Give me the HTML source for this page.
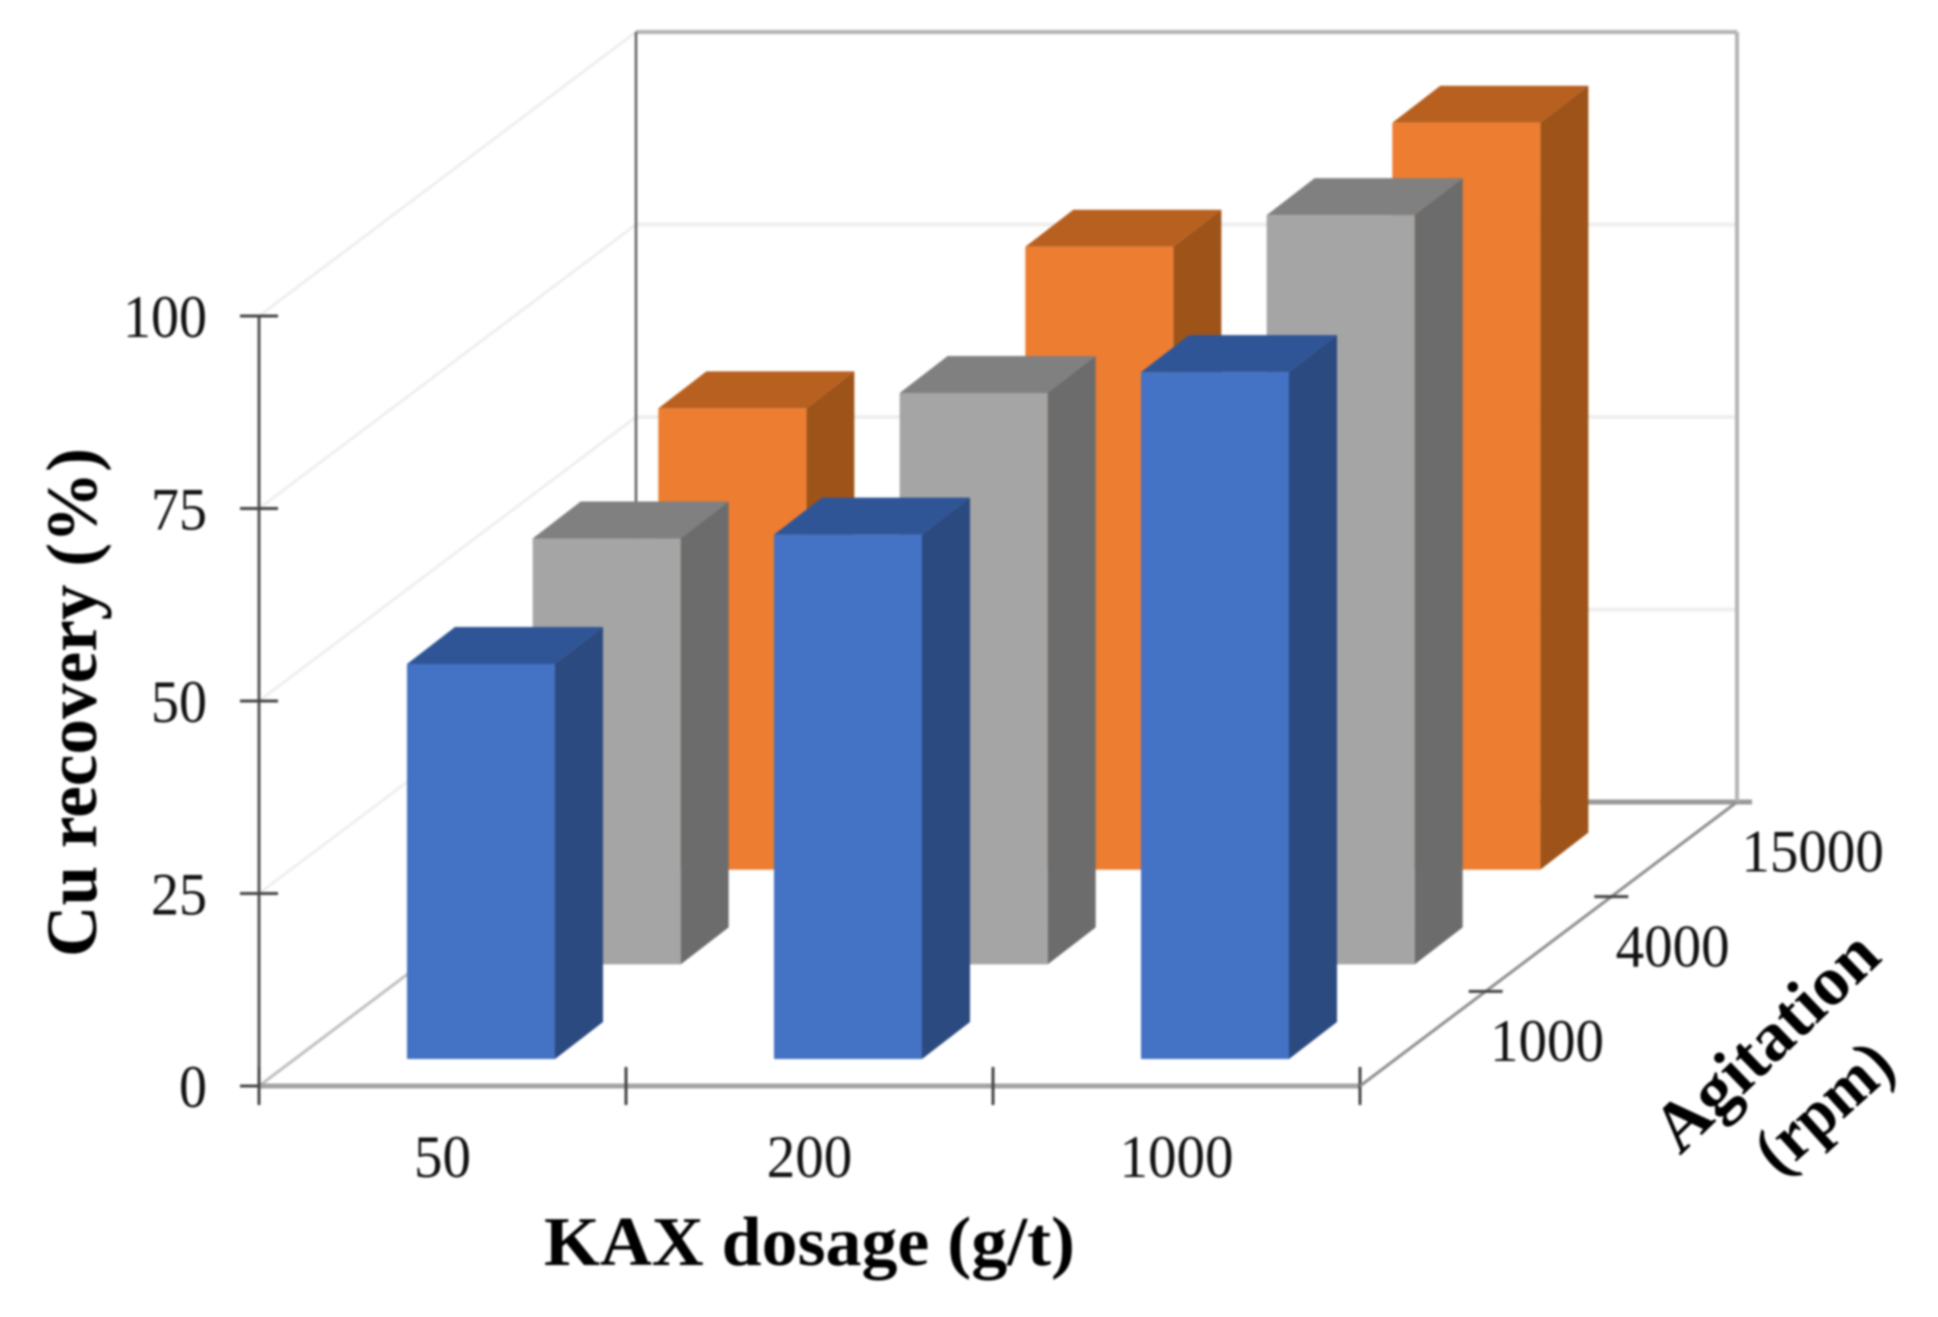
<!DOCTYPE html>
<html lang="en">
<head>
<meta charset="utf-8">
<title>Cu recovery 3D bar chart</title>
<style>
html,body{margin:0;padding:0;background:#fff;width:1938px;height:1317px;overflow:hidden}
svg{display:block;filter:blur(1.1px)}
text{font-family:"Liberation Serif",serif;fill:#111}
.title{font-weight:bold;fill:#000}
</style>
</head>
<body>
<svg id="chart" xmlns="http://www.w3.org/2000/svg" width="1938" height="1317" viewBox="0 0 1938 1317">
  <rect x="0" y="0" width="1938" height="1317" fill="#ffffff"/>
  <g id="walls"></g>
  <g id="bars"></g>
  <g id="axes"></g>
  <text class="title" transform="translate(96,957) rotate(-90)" font-size="72" textLength="509" lengthAdjust="spacingAndGlyphs">Cu recovery (%)</text>
  <text class="title" x="544" y="1265" font-size="70" textLength="531" lengthAdjust="spacingAndGlyphs">KAX dosage (g/t)</text>
  <text class="title" transform="translate(1680,1156) rotate(-44)" font-size="70" textLength="283" lengthAdjust="spacingAndGlyphs">Agitation</text>
  <text class="title" transform="translate(1779,1177) rotate(-42)" font-size="68" textLength="160" lengthAdjust="spacingAndGlyphs">(rpm)</text>
</svg>
<script>
const dosageCategories = ['50', '200', '1000'];
const agitationCategories = ['1000', '4000', '15000'];
const yTickValues = [0, 25, 50, 75, 100];
const recovery1000 = [51.3, 68.1, 89.2];
const recovery4000 = [55.3, 74.2, 97.3];
const recovery15000 = [59.9, 80.9, 97.0];

const NS = 'http://www.w3.org/2000/svg';
const seriesValues = [recovery1000, recovery4000, recovery15000];
const seriesColors = [
  {front: '#4472c4', side: '#2b4a80', top: '#2f5597'},
  {front: '#a5a5a5', side: '#6c6c6c', top: '#808080'},
  {front: '#ed7d31', side: '#9e5318', top: '#b8601f'}
];

// Projection of the chart's 3D space onto the page
const origin = {x: 259, y: 1086};
const plotWidth = 1101;
const plotHeight = 770;
const depthVec = {x: 377, y: -284};
const yMax = 100;
const barOffset = {x: 148, y: -27};
const barWidth = 148;
const barDepth = {x: 48, y: -37};

function px(xFrac, depthFrac) { return origin.x + plotWidth * xFrac + depthVec.x * depthFrac; }
function py(value, depthFrac) { return origin.y - plotHeight * value / yMax + depthVec.y * depthFrac; }
function catFrac(i) { return i / dosageCategories.length; }
function depthFrac(i) { return i / agitationCategories.length; }

function make(tag, parent, attrs) {
  const el = document.createElementNS(NS, tag);
  for (const k in attrs) el.setAttribute(k, attrs[k]);
  parent.appendChild(el);
  return el;
}

const walls = document.getElementById('walls');
const bars = document.getElementById('bars');
const axes = document.getElementById('axes');

// Gridlines on back and side walls
yTickValues.forEach(function (v) {
  const gridColor = v === 0 ? '#c0c0c0' : '#efefef';
  const side = make('line', walls, {x1: px(0, 0), y1: py(v, 0), x2: px(0, 1), y2: py(v, 1), stroke: gridColor, 'stroke-width': 3});
  
  
  const back = make('line', walls, {x1: px(0, 1), y1: py(v, 1), x2: v === 0 ? px(1, 1) + 15 : px(1, 1), y2: py(v, 1), stroke: v === 0 ? '#999999' : (v === 100 ? '#b2b2b2' : '#efefef'), 'stroke-width': v === 0 ? 5 : 4});
  
  
});
const backLeft = make('line', walls, {x1: px(0, 1), y1: py(0, 1), x2: px(0, 1), y2: py(yMax, 1), stroke: '#5f5f5f', 'stroke-width': 2.5});


const backRight = make('line', walls, {x1: px(1, 1), y1: py(0, 1), x2: px(1, 1), y2: py(yMax, 1), stroke: '#b4b4b4', 'stroke-width': 4});



// Bars, drawn back to front
for (let d = agitationCategories.length - 1; d >= 0; d--) {
  const c = seriesColors[d];
  const values = seriesValues[d];
  for (let i = 0; i < values.length; i++) {
    const x0 = px(catFrac(i), depthFrac(d)) + barOffset.x;
    const x1 = x0 + barWidth;
    const base = py(0, depthFrac(d)) + barOffset.y;
    const top = base - plotHeight * values[i] / yMax;
    const g = make('g', bars, {});
    
    
    const sidePoly = make('polygon', g, {fill: c.side, points: [x1, top, x1 + barDepth.x, top + barDepth.y, x1 + barDepth.x, base + barDepth.y, x1, base].join(' ')});
    
    
    const topPoly = make('polygon', g, {fill: c.top, points: [x0, top, x0 + barDepth.x, top + barDepth.y, x1 + barDepth.x, top + barDepth.y, x1, top].join(' ')});
    
    
    const front = make('rect', g, {fill: c.front, x: x0, y: top, width: barWidth, height: base - top});
    
    
  }
}

// Y axis
const yAxisLine = make('line', axes, {x1: origin.x, y1: py(0, 0) + 19, x2: origin.x, y2: py(yMax, 0), stroke: '#555555', 'stroke-width': 3});


yTickValues.forEach(function (v) {
  const tick = make('line', axes, {x1: origin.x - 19, y1: py(v, 0), x2: origin.x + 19, y2: py(v, 0), stroke: '#444444', 'stroke-width': 3});
  
  
  const label = make('text', axes, {x: 207, y: py(v, 0) + 21, 'font-size': 60, 'text-anchor': 'end', textLength: String(v).length * 28, lengthAdjust: 'spacingAndGlyphs'});
  label.textContent = v;
  
  
});

// X axis
const xAxisLine = make('line', axes, {x1: px(0, 0), y1: origin.y, x2: px(1, 0), y2: origin.y, stroke: '#a3a3a3', 'stroke-width': 5});


for (let i = 0; i <= dosageCategories.length; i++) {
  const tick = make('line', axes, {x1: px(catFrac(i), 0), y1: origin.y - 19, x2: px(catFrac(i), 0), y2: origin.y + 19, stroke: '#444444', 'stroke-width': 3});
  
  
}
dosageCategories.forEach(function (name, i) {
  const label = make('text', axes, {x: px(catFrac(i + 0.5), 0), y: 1177, 'font-size': 60, 'text-anchor': 'middle', textLength: name.length * 28.5, lengthAdjust: 'spacingAndGlyphs'});
  label.textContent = name;
  
  
});

// Depth axis
const depthAxisLine = make('line', axes, {x1: px(1, 0), y1: py(0, 0), x2: px(1, 1), y2: py(0, 1), stroke: '#8e8e8e', 'stroke-width': 3});


for (let d = 1; d < agitationCategories.length; d++) {
  const tx = px(1, depthFrac(d));
  const ty = py(0, depthFrac(d));
  const tick = make('line', axes, {x1: tx - 17, y1: ty, x2: tx + 17, y2: ty, stroke: '#444444', 'stroke-width': 3});
  
  
}
agitationCategories.forEach(function (name, d) {
  const label = make('text', axes, {x: px(1, depthFrac(d)) + 130, y: py(0, depthFrac(d)) - 25, 'font-size': 60, 'text-anchor': 'start', textLength: name.length * 28.5, lengthAdjust: 'spacingAndGlyphs'});
  label.textContent = name;
  
  
});
</script>
</body>
</html>
